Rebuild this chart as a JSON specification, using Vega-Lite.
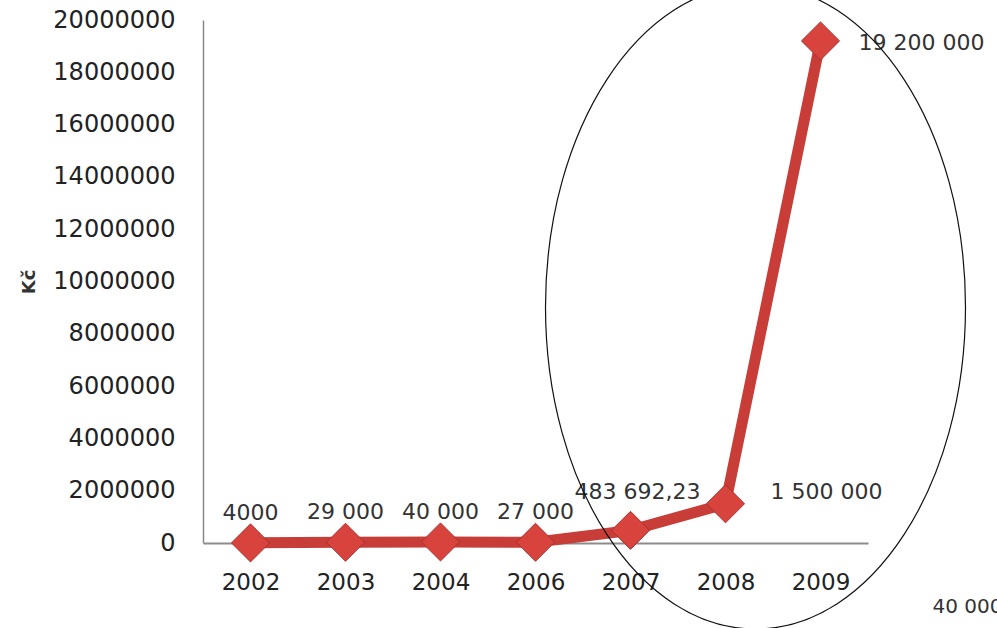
{
  "$schema": "https://vega.github.io/schema/vega-lite/v6.json",
  "width": 665,
  "height": 523,
  "autosize": {"type": "none"},
  "padding": {"left": 203, "top": 20, "right": 129, "bottom": 85},
  "background": "white",
  "config": {"view": {"stroke": null}, "font": "DejaVu Sans"},
  "datasets": {
    "costs": [
      {"year": "2002", "value": 4000, "label": "4000"},
      {"year": "2003", "value": 29000, "label": "29 000"},
      {"year": "2004", "value": 40000, "label": "40 000"},
      {"year": "2006", "value": 27000, "label": "27 000"},
      {"year": "2007", "value": 483692.23, "label": "483 692,23"},
      {"year": "2008", "value": 1500000, "label": "1 500 000"},
      {"year": "2009", "value": 19200000, "label": "19 200 000"}
    ],
    "note": [{"year": "2009", "value": 0, "label": "40 000"}],
    "highlight": [{"year": "2008", "value": 10000000}]
  },
  "data": {"name": "costs"},
  "encoding": {
    "x": {
      "field": "year",
      "type": "nominal",
      "sort": null,
      "scale": {"type": "point", "padding": 0.5},
      "axis": {
        "title": null,
        "labelAngle": 0,
        "ticks": false,
        "tickSize": 0,
        "labelPadding": 28,
        "labelFontSize": 23,
        "labelColor": "#222222",
        "domainColor": "#8c8c8c",
        "domainWidth": 2,
        "grid": false
      }
    },
    "y": {
      "field": "value",
      "type": "quantitative",
      "scale": {"domain": [0, 20000000], "nice": false, "zero": true},
      "axis": {
        "title": "Kč",
        "titleFontSize": 18,
        "titleFontWeight": "bold",
        "titleColor": "#333333",
        "titlePadding": 14,
        "values": [0, 2000000, 4000000, 6000000, 8000000, 10000000, 12000000, 14000000, 16000000, 18000000, 20000000],
        "format": "d",
        "ticks": false,
        "tickSize": 0,
        "labelPadding": 28,
        "labelFontSize": 24,
        "labelColor": "#222222",
        "grid": false,
        "domainColor": "#888888",
        "domainWidth": 1.5
      }
    }
  },
  "layer": [
    {
      "mark": {"type": "line", "color": "#c83d37", "strokeWidth": 11}
    },
    {
      "mark": {"type": "point", "shape": "diamond", "size": 1450, "filled": true, "fill": "#d8433e", "stroke": "#a8322e", "strokeWidth": 1, "opacity": 1}
    },
    {
      "transform": [{"filter": {"field": "year", "oneOf": ["2002", "2003", "2004", "2006"]}}],
      "mark": {"type": "text", "align": "center", "baseline": "middle", "dy": -30, "fontSize": 22, "color": "#333333"},
      "encoding": {"text": {"field": "label"}}
    },
    {
      "transform": [{"filter": {"field": "year", "equal": "2007"}}],
      "mark": {"type": "text", "align": "center", "baseline": "middle", "dx": 7, "dy": -38, "fontSize": 22, "color": "#333333"},
      "encoding": {"text": {"field": "label"}}
    },
    {
      "transform": [{"filter": {"field": "year", "equal": "2008"}}],
      "mark": {"type": "text", "align": "left", "baseline": "middle", "dx": 45, "dy": -12, "fontSize": 22, "color": "#333333"},
      "encoding": {"text": {"field": "label"}}
    },
    {
      "transform": [{"filter": {"field": "year", "equal": "2009"}}],
      "mark": {"type": "text", "align": "left", "baseline": "middle", "dx": 38, "dy": 2, "fontSize": 22, "color": "#333333"},
      "encoding": {"text": {"field": "label"}}
    },
    {
      "data": {"name": "note"},
      "mark": {"type": "text", "align": "left", "baseline": "middle", "dx": 112, "dy": 64, "fontSize": 20, "color": "#333333"},
      "encoding": {"text": {"field": "label"}}
    },
    {
      "data": {"name": "highlight"},
      "mark": {
        "type": "point",
        "shape": "M 2.40 0.255 C 2.40 2.033 1.46 3.475 0.30 3.475 C -0.86 3.475 -1.80 2.033 -1.80 0.255 C -1.80 -1.523 -0.86 -2.965 0.30 -2.965 C 1.46 -2.965 2.40 -1.523 2.40 0.255 Z",
        "size": 40000,
        "filled": false,
        "stroke": "#111111",
        "strokeWidth": 1.2,
        "opacity": 1
      }
    }
  ]
}
